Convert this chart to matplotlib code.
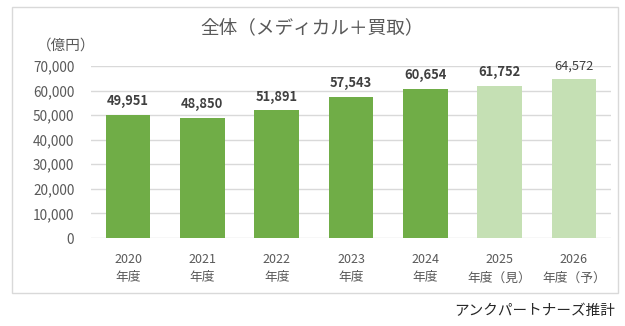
import matplotlib
matplotlib.use("Agg")
import matplotlib.pyplot as plt
from matplotlib.patches import Rectangle

plt.rcParams['font.family'] = ['Noto Sans CJK JP', 'DejaVu Sans']

years = ["2020", "2021", "2022", "2023", "2024", "2025", "2026"]
suffixes = ["年度", "年度", "年度", "年度", "年度", "年度（見）", "年度（予）"]
values = [49951, 48850, 51891, 57543, 60654, 61752, 64572]
is_forecast = [False, False, False, False, False, True, True]
yticks = [0, 10000, 20000, 30000, 40000, 50000, 60000, 70000]

dark = "#70AD47"
light = "#C5E0B4"
text_dark = "#404040"
text_gray = "#595959"

fig = plt.figure(figsize=(6.25, 3.26), dpi=100)
fig.patch.set_facecolor("white")

# outer frame
fig.patches.append(Rectangle((12 / 625, 1 - 293 / 326), 606 / 625, 286 / 326,
                             transform=fig.transFigure, fill=False,
                             edgecolor="#D9D9D9", linewidth=1.0))

ax = fig.add_axes([91 / 625, 1 - 238 / 326, 520 / 625, 172 / 326])
x = list(range(len(values)))
colors = [light if f else dark for f in is_forecast]
ax.bar(x, values, width=0.6, color=colors, zorder=2)

ax.set_xlim(-0.5, len(values) - 0.5)
ax.set_ylim(0, 70000)
ax.set_yticks(yticks)
ax.set_yticklabels([f"{v:,}" for v in yticks], fontsize=9.8, color=text_gray)
ax.tick_params(axis="y", length=0, pad=12)
ax.set_xticks([])
ax.grid(axis="y", color="#D9D9D9", linewidth=1.0, zorder=0)
for s in ax.spines.values():
    s.set_visible(False)

for i, v in enumerate(values):
    weight = "normal" if i == len(values) - 1 else "bold"
    ax.annotate(f"{v:,}", (i, v), xytext=(0, 5), textcoords="offset points",
                ha="center", va="bottom", fontsize=9.3, fontweight=weight,
                color=text_dark)

for i, (y, s) in enumerate(zip(years, suffixes)):
    ax.annotate(y, (i, 0), xytext=(0, -11), textcoords="offset points",
                ha="center", va="top", fontsize=9, color=text_gray,
                annotation_clip=False)
    ax.annotate(s, (i, 0), xytext=(0, -24), textcoords="offset points",
                ha="center", va="top", fontsize=9.2, color=text_gray,
                annotation_clip=False)

fig.text(312 / 625, 1 - 28 / 326, "全体（メディカル＋買取）", ha="center",
         va="center", fontsize=13.4, color=text_gray)
fig.text(66 / 625, 1 - 46 / 326, "（億円）", ha="center", va="center",
         fontsize=10.5, color=text_gray)
fig.text(615 / 625, 1 - 311 / 326, "アンクパートナーズ推計", ha="right",
         va="center", fontsize=10.5, color="#262626")

fig.savefig("out.png", dpi=100, facecolor="white")
